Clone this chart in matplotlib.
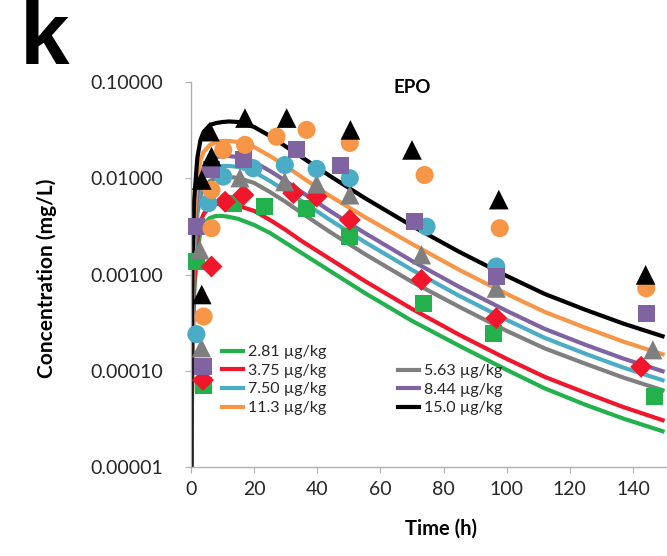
import matplotlib
matplotlib.use("Agg")
import matplotlib.pyplot as plt
from matplotlib.lines import Line2D
from matplotlib.ticker import FixedLocator, FuncFormatter

plt.rcParams['font.family'] = ['Lato', 'DejaVu Sans']

# Dose groups
doses = ["2.81 µg/kg", "3.75 µg/kg", "5.63 µg/kg", "7.50 µg/kg",
         "8.44 µg/kg", "11.3 µg/kg", "15.0 µg/kg"]
colors = ["#22b14c", "#f0162b", "#7f7f7f", "#4bacc6", "#8064a2", "#f79646", "#000000"]
markers = ["s", "D", "^", "o", "s", "o", "^"]

# Model-predicted profiles (h, mg/L)
t_fit = [0.0, 0.25, 0.5, 1, 2, 3, 4, 6, 8, 10, 12, 15, 20, 25, 30, 35, 44, 55, 70, 85, 100,
         112, 125, 137, 150]
fit_281 = [1e-7, 3.09e-5, 1.57e-4, 6.44e-4, 1.80e-3, 2.77e-3, 3.36e-3, 3.87e-3, 4.06e-3, 4.06e-3, 3.97e-3,
           3.78e-3, 3.27e-3, 2.704e-3, 2.129e-3, 1.676e-3, 1.09e-3, 6.44e-4, 3.298e-4, 1.814e-4, 1.022e-4,
           6.565e-5, 4.424e-5, 3.18e-5, 2.32e-5]
fit_375 = [1e-7, 3.93e-5, 2.00e-4, 8.18e-4, 2.29e-3, 3.52e-3, 4.26e-3, 5.03e-3, 5.41e-3, 5.53e-3, 5.41e-3,
           5.16e-3, 4.58e-3, 3.69e-3, 2.905e-3, 2.233e-3, 1.452e-3, 8.58e-4, 4.393e-4, 2.36e-4, 1.329e-4,
           8.645e-5, 5.895e-5, 4.188e-5, 3.018e-5]
fit_563 = [1e-7, 7.14e-5, 3.72e-4, 1.52e-3, 4.26e-3, 6.55e-3, 7.93e-3, 9.37e-3, 1.007e-2, 1.032e-2, 1.032e-2,
           1.007e-2, 8.94e-3, 7.205e-3, 5.674e-3, 4.362e-3, 2.769e-3, 1.636e-3, 8.379e-4, 4.608e-4, 2.596e-4,
           1.709e-4, 1.18e-4, 8.479e-5, 6.185e-5]
fit_750 = [1e-7, 9.06e-5, 4.83e-4, 1.98e-3, 5.53e-3, 8.51e-3, 1.032e-2, 1.219e-2, 1.31e-2, 1.342e-2, 1.342e-2,
           1.31e-2, 1.162e-2, 9.376e-3, 7.38e-3, 5.811e-3, 3.69e-3, 2.18e-3, 1.116e-3, 5.995e-4, 3.378e-4,
           2.196e-4, 1.498e-4, 1.077e-4, 7.855e-5]
fit_844 = [1e-7, 1.15e-4, 6.17e-4, 2.52e-3, 6.87e-3, 1.057e-2, 1.28e-2, 1.55e-2, 1.66e-2, 1.70e-2, 1.70e-2,
           1.66e-2, 1.475e-2, 1.191e-2, 9.376e-3, 7.205e-3, 4.575e-3, 2.704e-3, 1.384e-3, 7.432e-4, 4.188e-4,
           2.724e-4, 1.858e-4, 1.336e-4, 9.741e-5]
fit_113 = [1e-7, 1.65e-4, 8.79e-4, 3.69e-3, 1.007e-2, 1.549e-2, 1.875e-2, 2.22e-2, 2.38e-2, 2.44e-2, 2.44e-2,
           2.38e-2, 2.11e-2, 1.704e-2, 1.342e-2, 1.031e-2, 6.549e-3, 3.963e-3, 2.078e-3, 1.116e-3, 6.288e-4,
           4.089e-4, 2.79e-4, 2.005e-4, 1.463e-4]
fit_150 = [1e-7, 2.66e-4, 1.42e-3, 5.95e-3, 1.625e-2, 2.50e-2, 3.03e-2, 3.58e-2, 3.75e-2, 3.84e-2, 3.89e-2,
           3.84e-2, 3.41e-2, 2.75e-2, 2.139e-2, 1.664e-2, 1.057e-2, 6.243e-3, 3.197e-3, 1.717e-3, 9.67e-4,
           6.288e-4, 4.289e-4, 3.085e-4, 2.249e-4]

# Observed concentrations (h, mg/L)
t_obs_281 = [1.8, 4.0, 13.5, 23.4, 36.6, 50.3, 73.5, 95.7, 146.8]
c_obs_281 = [1.36e-3, 7.1e-5, 5.5e-3, 5.07e-3, 4.9e-3, 2.48e-3, 5.04e-4, 2.46e-4, 5.4e-5]
t_obs_375 = [3.8, 6.5, 10.8, 16.6, 32.4, 39.8, 50.3, 73.0, 96.7, 142.6]
c_obs_375 = [8.0e-5, 1.21e-3, 5.7e-3, 6.7e-3, 7.0e-3, 6.44e-3, 3.69e-3, 8.8e-4, 3.52e-4, 1.1e-4]
t_obs_563 = [2.8, 3.3, 15.5, 29.7, 39.8, 50.3, 73.0, 96.7, 146.3]
c_obs_563 = [1.8e-3, 1.73e-4, 1.01e-2, 9.2e-3, 8.7e-3, 6.7e-3, 1.6e-3, 7.2e-4, 1.65e-4]
t_obs_750 = [1.7, 5.5, 10.2, 19.7, 29.7, 39.8, 50.3, 74.6, 96.7]
c_obs_750 = [2.4e-4, 5.5e-3, 1.04e-2, 1.27e-2, 1.37e-2, 1.25e-2, 1.00e-2, 3.14e-3, 1.21e-3]
t_obs_844 = [1.8, 3.8, 6.5, 16.5, 33.4, 47.2, 70.9, 96.7, 144.2]
c_obs_844 = [3.14e-3, 1.1e-4, 1.22e-2, 1.55e-2, 1.97e-2, 1.37e-2, 3.54e-3, 9.5e-4, 3.96e-4]
t_obs_113 = [4.0, 6.5, 6.5, 10.2, 17.1, 27.1, 36.6, 50.3, 74.0, 97.8, 144.2]
c_obs_113 = [3.66e-4, 3.03e-3, 7.57e-3, 1.97e-2, 2.22e-2, 2.70e-2, 3.18e-2, 2.33e-2, 1.08e-2, 3.03e-3, 7.2e-4]
t_obs_150 = [3.4, 3.4, 6.5, 6.0, 17.1, 30.3, 50.5, 70.0, 97.5, 144.0]
c_obs_150 = [6.2e-4, 9.6e-3, 1.68e-2, 3.05e-2, 4.22e-2, 4.22e-2, 3.18e-2, 1.97e-2, 6.0e-3, 9.9e-4]

fits = [fit_281, fit_375, fit_563, fit_750, fit_844, fit_113, fit_150]
obs = [(t_obs_281, c_obs_281), (t_obs_375, c_obs_375), (t_obs_563, c_obs_563),
       (t_obs_750, c_obs_750), (t_obs_844, c_obs_844), (t_obs_113, c_obs_113),
       (t_obs_150, c_obs_150)]

x_ticks = [0, 20, 40, 60, 80, 100, 120, 140]
y_ticks = [1e-5, 1e-4, 1e-3, 1e-2, 1e-1]

W, H = 667, 556
X0, X1 = 191, 191 + 158 * 3.157      # the time axis runs past the right edge of the canvas
Y0, Y1 = 467, 82
fig = plt.figure(figsize=(W / 100, H / 100), dpi=100)
ax = fig.add_axes([X0 / W, (H - Y0) / H, (X1 - X0) / W, (Y0 - Y1) / H])

for fit, col in zip(fits, colors):
    ax.plot(t_fit, fit, color=col, lw=3.0, solid_capstyle='butt', solid_joinstyle='round', zorder=2)

sizes = [150, 125, 190, 170, 150, 170, 200]
for i in range(len(obs)):
    t, c = obs[i]
    ax.scatter(t, c, marker=markers[i], s=sizes[i], color=colors[i],
               edgecolors='none', zorder=3 + i, clip_on=False)

ax.set_yscale('log')
ax.set_xlim(0, 158)
ax.set_ylim(1e-5, 1e-1)
ax.yaxis.set_major_locator(FixedLocator(y_ticks))
ax.yaxis.set_minor_locator(FixedLocator([]))
ax.yaxis.set_major_formatter(FuncFormatter(lambda v, p: f"{v:.5f}"))
ax.set_xticks(x_ticks)

for s in ['top', 'right']:
    ax.spines[s].set_visible(False)
for s in ['left', 'bottom']:
    ax.spines[s].set_color('#b0b0b0')
    ax.spines[s].set_linewidth(1.0)
ax.tick_params(axis='both', which='major', direction='out', length=4,
               color='#b0b0b0', labelsize=14, labelcolor='#262626')
ax.tick_params(axis='y', pad=16)
ax.tick_params(axis='x', pad=6)

ax.set_xlabel("Time (h)", fontsize=14.5, fontweight='bold')
ax.set_ylabel("Concentration (mg/L)", fontsize=15, fontweight='bold')
ax.xaxis.set_label_coords((441 - X0) / (X1 - X0), -(519 - Y0) / (Y0 - Y1))
ax.yaxis.set_label_coords(-(X0 - 57) / (X1 - X0), 0.49)

ax.text((412 - X0) / (X1 - X0), 0.985, "EPO", transform=ax.transAxes, ha='center', va='center',
        fontsize=13.5, fontweight='bold')
fig.text(44 / W, 1 - 41 / H, "k", ha='center', va='center', fontsize=64,
         fontweight='bold', family=['Liberation Sans', 'DejaVu Sans'])

# legend: two blocks, the second starting one row lower
def handle(col):
    return Line2D([], [], color=col, lw=3)

left_idx = [0, 1, 3, 5]
right_idx = [2, 4, 6]
leg_kw = dict(frameon=False, fontsize=11.5, handlelength=1.3, handletextpad=0.3,
              labelspacing=0.28, borderpad=0, borderaxespad=0, labelcolor='#262626')
leg1 = ax.legend([handle(colors[i]) for i in left_idx], [doses[i] for i in left_idx],
                 loc='upper left', bbox_to_anchor=(222 / W, 1 - 345 / H),
                 bbox_transform=fig.transFigure, **leg_kw)
ax.add_artist(leg1)
ax.legend([handle(colors[i]) for i in right_idx], [doses[i] for i in right_idx],
          loc='upper left', bbox_to_anchor=(398 / W, 1 - 364 / H),
          bbox_transform=fig.transFigure, **leg_kw)

fig.savefig("out.png", dpi=100)
